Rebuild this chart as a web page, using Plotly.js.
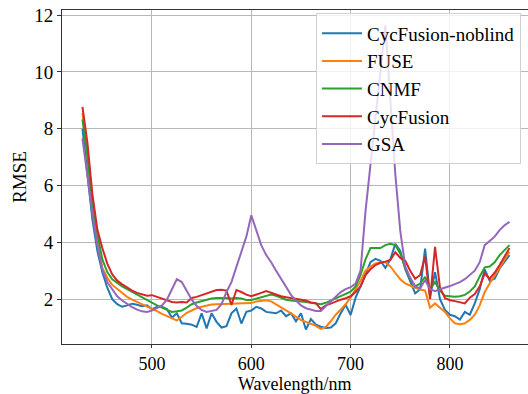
<!DOCTYPE html>
<html>
<head>
<meta charset="utf-8">
<script src="https://cdn.plot.ly/plotly-3.0.1.min.js"></script>
<style>html,body{margin:0;padding:0;background:#fff;}#chart{width:528px;height:394px;}</style>
</head>
<body>
<div id="chart"></div>
<script>
// Wavelengths (nm)
const wavelength = [430,435,440,445,450,455,460,465,470,475,480,485,490,495,500,505,510,515,520,525,530,535,540,545,550,555,560,565,570,575,580,585,590,595,600,605,610,615,620,625,630,635,640,645,650,655,660,665,670,675,680,685,690,695,700,705,710,715,720,725,730,735,740,745,750,755,760,765,770,775,780,785,790,795,800,805,810,815,820,825,830,835,840,845,850,855,860];

const cycFusionNoblind = [8.0,6.3,4.8,3.7,2.95,2.4,2.0,1.82,1.73,1.78,1.84,1.8,1.75,1.78,1.65,1.72,1.73,1.65,1.35,1.5,1.15,1.13,1.1,1.02,1.5,0.97,1.5,1.2,1.0,1.05,1.5,1.67,1.14,1.55,1.6,1.73,1.67,1.55,1.52,1.5,1.6,1.4,1.5,1.22,1.5,0.93,1.3,1.1,1.03,0.98,1.0,1.15,1.5,1.8,1.44,2.05,2.45,2.9,3.3,3.42,3.35,3.1,3.4,3.95,3.7,3.05,2.6,2.2,2.35,3.78,2.1,2.95,2.0,1.62,1.45,1.4,1.28,1.55,1.45,1.85,2.35,3.05,2.65,2.72,3.08,3.3,3.55];

const fuse = [8.55,7.1,5.3,4.0,3.1,2.75,2.5,2.35,2.2,2.08,1.98,1.9,1.83,1.75,1.68,1.58,1.48,1.4,1.32,1.25,1.38,1.52,1.6,1.68,1.73,1.78,1.81,1.82,1.82,1.82,1.84,1.85,1.85,1.84,1.86,1.92,1.94,1.96,1.92,1.82,1.7,1.6,1.5,1.38,1.26,1.2,1.14,1.06,0.95,1.02,1.22,1.45,1.63,1.82,2.06,2.35,2.65,3.0,3.15,3.26,3.3,3.3,3.15,2.92,2.7,2.55,2.47,2.4,2.34,2.3,1.7,1.85,1.7,1.55,1.32,1.15,1.12,1.15,1.27,1.45,1.78,2.25,2.55,2.82,3.1,3.4,3.67];

const cnmf = [8.33,7.0,5.4,4.3,3.4,2.95,2.7,2.57,2.45,2.35,2.25,2.17,2.05,1.95,1.87,1.78,1.7,1.62,1.55,1.57,1.6,1.7,1.82,1.88,1.93,1.98,2.02,2.04,2.05,2.04,2.02,2.04,2.02,1.97,1.97,2.02,2.08,2.12,2.16,2.12,2.06,1.98,1.95,1.94,1.92,1.9,1.87,1.85,1.82,1.87,1.95,2.03,2.1,2.18,2.26,2.45,2.85,3.4,3.8,3.8,3.8,3.9,3.95,3.9,3.6,3.1,2.72,2.45,2.55,2.78,2.35,2.6,2.3,2.12,2.1,2.08,2.1,2.15,2.27,2.45,2.8,3.12,3.15,3.3,3.55,3.72,3.9];

const cycFusion = [8.77,7.5,5.7,4.45,3.8,3.25,2.87,2.65,2.52,2.4,2.3,2.22,2.16,2.12,2.14,2.08,2.02,1.95,1.9,1.88,1.9,1.88,2.04,2.08,2.14,2.2,2.28,2.32,2.33,2.3,1.8,2.32,2.25,2.16,2.1,2.15,2.22,2.28,2.22,2.14,2.1,2.07,2.04,2.02,2.0,1.95,1.88,1.86,1.65,1.78,1.84,1.92,1.98,2.03,2.1,2.25,2.45,2.85,3.05,3.2,3.28,3.32,3.38,3.65,3.45,3.35,3.0,2.72,2.85,3.5,2.0,3.84,2.4,2.03,1.96,1.93,1.9,1.85,2.05,2.18,2.45,2.9,2.72,2.93,3.2,3.5,3.8];

const gsa = [7.66,6.3,5.0,3.9,3.05,2.6,2.35,2.1,1.95,1.82,1.72,1.63,1.57,1.55,1.6,1.68,1.78,1.98,2.35,2.7,2.6,2.3,1.98,1.76,1.62,1.55,1.58,1.62,1.82,2.25,2.6,3.14,3.6,4.2,4.95,4.4,3.9,3.55,3.3,3.0,2.7,2.42,2.15,1.95,1.78,1.68,1.62,1.58,1.58,1.75,1.94,2.08,2.25,2.35,2.42,2.55,3.0,5.1,6.7,8.35,10.0,11.65,9.0,6.4,4.4,3.15,2.75,2.45,2.38,2.67,2.35,2.28,2.35,2.4,2.46,2.53,2.6,2.7,2.85,3.0,3.3,3.9,4.05,4.2,4.43,4.6,4.72];

const seriesNames = ['CycFusion-noblind','FUSE','CNMF','CycFusion','GSA'];
const seriesColors = ['#1f77b4','#ff7f0e','#2ca02c','#d62728','#9467bd'];
const seriesData = [cycFusionNoblind, fuse, cnmf, cycFusion, gsa];
const xTitle = 'Wavelength/nm';

const traces = seriesData.map((ys, i) => ({
  x: wavelength, y: ys, type: 'scatter', mode: 'lines',
  name: seriesNames[i], legendgroup: 'g' + i,
  line: {color: seriesColors[i], width: 2}
}));

const fontFam = 'Liberation Serif';
const layout = {
  width: 528, height: 394,
  margin: {l: 62, r: 0, t: 10, b: 50},
  paper_bgcolor: '#fff', plot_bgcolor: '#fff',
  font: {family: fontFam, size: 16, color: '#000'},
  showlegend: true,
  legend: {
    x: 0.985, y: 0.99, xanchor: 'right', yanchor: 'top',
    bgcolor: 'rgba(255,255,255,0.8)', bordercolor: '#d0d0d0', borderwidth: 1,
    font: {family: fontFam, size: 19, color: '#000'},
    tracegroupgap: 0, itemwidth: 40
  },
  xaxis: {
    range: [409.4, 878.6], tickvals: [500, 600, 700, 800],
    showgrid: true, gridcolor: '#b8b8b8', gridwidth: 1,
    showline: true, linecolor: '#333', linewidth: 1, mirror: true,
    ticks: 'outside', ticklen: 3, tickcolor: '#333',
    zeroline: false,
    tickfont: {family: fontFam, size: 18}
  },
  yaxis: {
    range: [0.42, 12.18], tickvals: [2, 4, 6, 8, 10, 12],
    showgrid: true, gridcolor: '#b8b8b8', gridwidth: 1,
    showline: true, linecolor: '#333', linewidth: 1,
    ticks: 'outside', ticklen: 4, tickcolor: '#333',
    zeroline: false,
    tickfont: {family: fontFam, size: 19},
    title: {text: 'RMSE', font: {family: fontFam, size: 19}, standoff: 2}
  },
  annotations: [{
    text: xTitle, xref: 'paper', yref: 'paper', x: 0.5, y: 0,
    xanchor: 'center', yanchor: 'middle', yshift: -40, showarrow: false,
    borderpad: 0,
    font: {family: fontFam, size: 18, color: '#000'}
  }]
};

Plotly.newPlot('chart', traces, layout, {displayModeBar: false, staticPlot: true});
</script>
</body>
</html>
